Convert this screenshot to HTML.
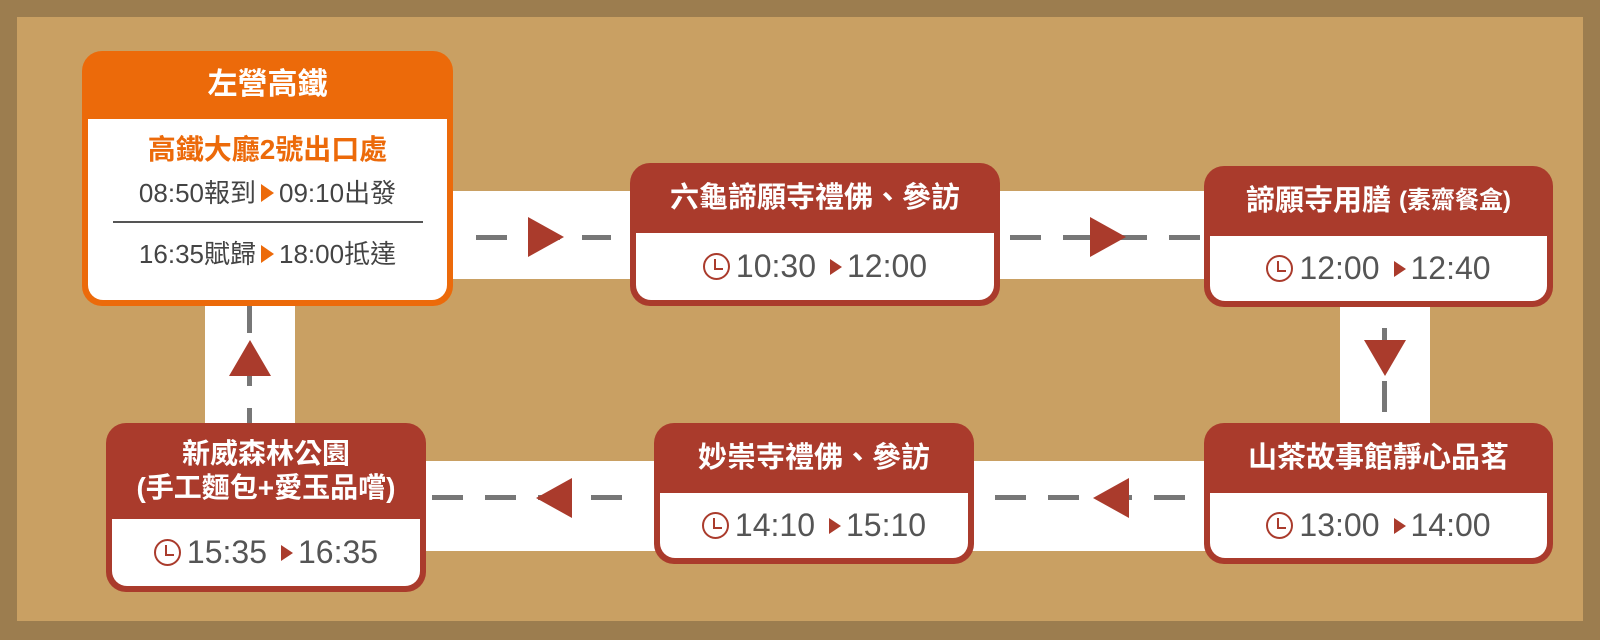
<!DOCTYPE html>
<html><head><meta charset="utf-8"><style>
*{margin:0;padding:0;box-sizing:border-box}
body{width:1600px;height:640px;background:#9c7d4f;position:relative;overflow:hidden;font-family:"Liberation Sans","Noto Sans CJK TC",sans-serif}
.inner{position:absolute;left:17px;top:17px;width:1566px;height:604px;background:#c9a063}
.band{position:absolute;background:#fff}
.dh{position:absolute;height:5px;background:repeating-linear-gradient(90deg,#777 0 31px,transparent 31px 53px)}
.dv{position:absolute;width:5px;background:repeating-linear-gradient(180deg,#777 0 31px,transparent 31px 53px)}
.box{position:absolute;background:#aa3b2c;border-radius:20px;padding:0 6px 6px 6px}
.box .h{color:#fff;font-weight:bold;font-size:29px;text-align:center;display:flex;align-items:center;justify-content:center;line-height:1.2}
.box .b{background:#fff;border-radius:0 0 15px 15px;display:flex;align-items:center;justify-content:center;color:#555;font-size:32px}
.clk{display:inline-block;width:27px;height:27px;border:2.5px solid #aa3b2c;border-radius:50%;position:relative;margin-right:6px}
.clk:after{content:"";position:absolute;left:9px;top:4px;width:7px;height:9px;border-left:2.5px solid #aa3b2c;border-bottom:2.5px solid #aa3b2c}
.tri{display:inline-block;width:0;height:0;border-top:8px solid transparent;border-bottom:8px solid transparent;border-left:12px solid #aa3b2c;margin:0 5px 0 14px}
.otri{display:inline-block;width:0;height:0;border-top:9px solid transparent;border-bottom:9px solid transparent;border-left:13px solid #ec6a0a;margin:0 5px}
.arr{position:absolute;width:0;height:0}
</style></head><body>
<div class="inner"></div>
<div class="band" style="left:449px;top:191px;width:184px;height:88px"></div>
<div class="band" style="left:996px;top:191px;width:212px;height:88px"></div>
<div class="band" style="left:1340px;top:302px;width:90px;height:130px"></div>
<div class="band" style="left:969px;top:461px;width:239px;height:90px"></div>
<div class="band" style="left:422px;top:461px;width:235px;height:90px"></div>
<div class="band" style="left:205px;top:302px;width:90px;height:126px"></div>
<div class="dh" style="left:476px;top:235px;width:135px"></div>
<div class="dh" style="left:1010px;top:235px;width:190px"></div>
<div class="dv" style="left:1382px;top:328px;height:95px"></div>
<div class="dh" style="left:995px;top:495px;width:190px"></div>
<div class="dh" style="left:432px;top:495px;width:205px"></div>
<div class="dv" style="left:247px;top:302px;height:125px"></div>
<div class="arr" style="left:528px;top:217px;border-top:20px solid transparent;border-bottom:20px solid transparent;border-left:36px solid #aa3b2c"></div>
<div class="arr" style="left:1090px;top:217px;border-top:20px solid transparent;border-bottom:20px solid transparent;border-left:36px solid #aa3b2c"></div>
<div class="arr" style="left:1364px;top:340px;border-left:21px solid transparent;border-right:21px solid transparent;border-top:36px solid #aa3b2c"></div>
<div class="arr" style="left:1093px;top:478px;border-top:20px solid transparent;border-bottom:20px solid transparent;border-right:36px solid #aa3b2c"></div>
<div class="arr" style="left:536px;top:478px;border-top:20px solid transparent;border-bottom:20px solid transparent;border-right:36px solid #aa3b2c"></div>
<div class="arr" style="left:229px;top:340px;border-left:21px solid transparent;border-right:21px solid transparent;border-bottom:36px solid #aa3b2c"></div>

<div class="box" style="left:82px;top:51px;width:371px;height:255px;background:#ec6a0a">
 <div class="h" style="height:68px;font-size:30px">左營高鐵</div>
 <div class="b" style="height:181px;flex-direction:column;justify-content:flex-start;font-size:26px;color:#444">
  <div style="color:#ec6a0a;font-size:28px;margin-top:9px;font-weight:bold">高鐵大廳2號出口處</div>
  <div style="margin-top:5px">08:50報到<span class="otri"></span>09:10出發</div>
  <div style="width:310px;height:1.5px;background:#555;margin-top:11px"></div>
  <div style="margin-top:11px">16:35賦歸<span class="otri"></span>18:00抵達</div>
 </div>
</div>

<div class="box" style="left:630px;top:163px;width:370px;height:143px">
 <div class="h" style="height:70px">六龜諦願寺禮佛、參訪</div>
 <div class="b" style="height:67px"><span class="clk"></span>10:30<span class="tri"></span>12:00</div>
</div>

<div class="box" style="left:1204px;top:166px;width:349px;height:141px">
 <div class="h" style="height:70px">諦願寺用膳 <span style="font-size:24px;margin-left:8px">(素齋餐盒)</span></div>
 <div class="b" style="height:65px"><span class="clk"></span>12:00<span class="tri"></span>12:40</div>
</div>

<div class="box" style="left:1204px;top:423px;width:349px;height:141px">
 <div class="h" style="height:70px">山茶故事館靜心品茗</div>
 <div class="b" style="height:65px"><span class="clk"></span>13:00<span class="tri"></span>14:00</div>
</div>

<div class="box" style="left:654px;top:423px;width:320px;height:141px">
 <div class="h" style="height:70px">妙崇寺禮佛、參訪</div>
 <div class="b" style="height:65px"><span class="clk"></span>14:10<span class="tri"></span>15:10</div>
</div>

<div class="box" style="left:106px;top:423px;width:320px;height:169px">
 <div class="h" style="height:96px;flex-direction:column;font-size:28px">新威森林公園<div>(手工麵包+愛玉品嚐)</div></div>
 <div class="b" style="height:67px"><span class="clk"></span>15:35<span class="tri"></span>16:35</div>
</div>
</body></html>
